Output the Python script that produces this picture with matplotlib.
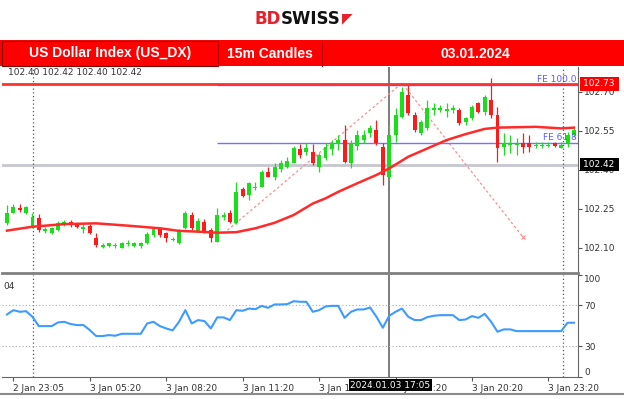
import matplotlib
matplotlib.use("Agg")
import matplotlib.pyplot as plt
from matplotlib.patches import Rectangle
from matplotlib.lines import Line2D
import numpy as np

# US_DX 15m candles (index 0 = first visible candle)
opens = [102.195, 102.235, 102.254, 102.232, 102.181, 102.215, 102.165, 102.158, 102.168, 102.187,
         102.198, 102.187, 102.173, 102.183, 102.136, 102.104, 102.108, 102.106, 102.100, 102.113,
         102.106, 102.106, 102.117, 102.149, 102.171, 102.155, 102.130, 102.117, 102.175, 102.227,
         102.164, 102.200, 102.168, 102.123, 102.217, 102.232, 102.194, 102.325, 102.303, 102.328,
         102.335, 102.392, 102.371, 102.402, 102.412, 102.425, 102.478, 102.469, 102.469, 102.412,
         102.444, 102.478, 102.499, 102.514, 102.425, 102.491, 102.514, 102.540, 102.553, 102.488,
         102.373, 102.533, 102.604, 102.687, 102.610, 102.540, 102.559, 102.630, 102.630, 102.627,
         102.630, 102.630, 102.585, 102.598, 102.655, 102.623, 102.668, 102.610, 102.488, 102.495,
         102.495, 102.501, 102.501, 102.492, 102.492, 102.493, 102.501, 102.485, 102.501, 102.533]
highs = [102.264, 102.267, 102.267, 102.262, 102.232, 102.228, 102.181, 102.180, 102.204, 102.207,
         102.207, 102.194, 102.191, 102.191, 102.155, 102.117, 102.120, 102.119, 102.123, 102.130,
         102.121, 102.123, 102.160, 102.181, 102.180, 102.162, 102.140, 102.171, 102.241, 102.237,
         102.214, 102.210, 102.176, 102.252, 102.238, 102.245, 102.354, 102.335, 102.354, 102.354,
         102.399, 102.412, 102.426, 102.437, 102.449, 102.491, 102.499, 102.503, 102.499, 102.463,
         102.503, 102.514, 102.533, 102.572, 102.514, 102.553, 102.553, 102.572, 102.591, 102.503,
         102.572, 102.637, 102.719, 102.726, 102.623, 102.591, 102.668, 102.655, 102.649, 102.655,
         102.649, 102.636, 102.604, 102.649, 102.662, 102.687, 102.752, 102.642, 102.540, 102.533,
         102.521, 102.540, 102.533, 102.508, 102.508, 102.508, 102.508, 102.508, 102.546, 102.559]
lows = [102.187, 102.232, 102.238, 102.230, 102.175, 102.162, 102.155, 102.153, 102.165, 102.183,
        102.181, 102.175, 102.155, 102.153, 102.104, 102.098, 102.104, 102.098, 102.098, 102.106,
        102.104, 102.098, 102.114, 102.142, 102.142, 102.123, 102.127, 102.114, 102.172, 102.168,
        102.160, 102.157, 102.123, 102.122, 102.207, 102.194, 102.191, 102.296, 102.283, 102.322,
        102.333, 102.372, 102.360, 102.391, 102.407, 102.425, 102.445, 102.457, 102.418, 102.392,
        102.437, 102.457, 102.476, 102.425, 102.405, 102.476, 102.503, 102.526, 102.495, 102.341,
        102.360, 102.508, 102.598, 102.610, 102.546, 102.533, 102.553, 102.610, 102.623, 102.604,
        102.617, 102.572, 102.572, 102.591, 102.617, 102.610, 102.600, 102.431, 102.457, 102.463,
        102.457, 102.463, 102.469, 102.482, 102.482, 102.488, 102.488, 102.482, 102.488, 102.527]
closes = [102.232, 102.256, 102.245, 102.256, 102.217, 102.168, 102.171, 102.175, 102.194, 102.200,
          102.187, 102.181, 102.181, 102.155, 102.110, 102.110, 102.117, 102.110, 102.119, 102.117,
          102.117, 102.119, 102.153, 102.171, 102.149, 102.136, 102.132, 102.165, 102.232, 102.175,
          102.202, 102.162, 102.136, 102.226, 102.226, 102.200, 102.315, 102.299, 102.348, 102.335,
          102.392, 102.373, 102.412, 102.425, 102.435, 102.482, 102.457, 102.482, 102.425, 102.457,
          102.488, 102.502, 102.514, 102.431, 102.502, 102.533, 102.533, 102.559, 102.502, 102.380,
          102.533, 102.610, 102.700, 102.617, 102.553, 102.585, 102.636, 102.636, 102.636, 102.632,
          102.636, 102.578, 102.600, 102.642, 102.623, 102.681, 102.610, 102.482, 102.501, 102.499,
          102.499, 102.488, 102.488, 102.497, 102.497, 102.497, 102.492, 102.495, 102.533, 102.553]

# lower panel oscillator, one value per candle
rsi_values = [60.9, 65.1, 63.5, 64.1, 58.6, 49.5, 49.5, 49.5, 53.1, 53.7,
              51.5, 50.5, 50.5, 45.6, 39.8, 39.8, 40.7, 40.1, 42.0, 42.0,
              42.0, 42.0, 52.1, 53.7, 49.5, 47.2, 45.3, 53.7, 65.1, 52.1,
              55.4, 54.4, 47.2, 58.0, 58.0, 55.4, 65.1, 64.5, 66.7, 66.1,
              69.3, 67.4, 70.7, 70.7, 71.0, 73.9, 73.3, 73.3, 63.5, 65.1,
              68.7, 69.3, 69.3, 57.6, 63.5, 65.8, 65.8, 67.7, 58.6, 47.9,
              59.6, 63.5, 66.7, 58.6, 55.4, 55.4, 58.3, 59.6, 60.2, 60.2,
              60.2, 55.4, 56.0, 59.3, 57.6, 61.5, 53.7, 44.0, 46.3, 46.3,
              44.6, 44.6, 44.6, 44.6, 44.6, 44.6, 44.6, 44.6, 52.8, 52.8]

# red moving average, read at these candles
ma_idx = [0, 4, 9, 14, 19, 24, 27, 30, 33, 36, 39, 42, 45, 48, 50, 52, 55, 58, 60,
          63, 66, 69, 72, 75, 77, 83, 87, 89]
ma_values = [102.166, 102.181, 102.191, 102.194, 102.185, 102.175, 102.165, 102.162, 102.158,
             102.160, 102.175, 102.196, 102.226, 102.270, 102.290, 102.315, 102.348, 102.380,
             102.405, 102.450, 102.482, 102.514, 102.537, 102.557, 102.562, 102.565, 102.559, 102.562]

# fibonacci expansion tool
fib_idx = [34, 62, 81]
fib_prices = [102.155, 102.733, 102.141]
fe_names = ["FE 100.0", "FE 61.8"]
fe_levels = [102.726, 102.503]
fe_start = 33

red_level = 102.73
gray_level = 102.42
cursor_idx = 60
cursor_label = "2024.01.03 17:05"
dotted_idx = [4.1, 87.3]
header_ohlc = "102.40 102.42 102.40 102.42"

tick_idx = [1, 13, 25, 37, 49, 61, 73, 85]
tick_labels = ["2 Jan 23:05", "3 Jan 05:20", "3 Jan 08:20", "3 Jan 11:20",
               "3 Jan 14:20", "3 Jan 17:20", "3 Jan 20:20", "3 Jan 23:20"]
price_ticks = [102.10, 102.25, 102.40, 102.55, 102.70]
rsi_ticks = [0, 30, 70, 100]

W, H = 624, 399
plt.rcParams['font.family'] = ['DejaVu Sans']


def fy(y):
    return 1 - y / H


def fbox(x0, y0, x1, y1):
    return [x0 / W, 1 - y1 / H, (x1 - x0) / W, (y1 - y0) / H]


fig = plt.figure(figsize=(W / 100, H / 100), dpi=100)
fig.patch.set_facecolor('white')

ax = fig.add_axes(fbox(2, 67, 577.5, 272.5))
ax2 = fig.add_axes(fbox(2, 274.5, 577.5, 376.7), sharex=ax)

o = np.array(opens)
c = np.array(closes)
idx = np.arange(len(o))
up = c >= o
cols = np.where(up, '#18e018', '#ff1a1a')

# candles
ax.vlines(idx, lows, highs, colors=cols, lw=0.9, zorder=3)
ax.bar(idx, np.maximum(np.abs(c - o), 0.004), bottom=np.minimum(o, c), width=0.62,
       color=cols, linewidth=0, zorder=4)

ax.plot(ma_idx, ma_values, color='#ff2a2a', lw=1.8, zorder=5)
ax.plot(fib_idx, fib_prices, color='#ff8a8a', lw=0.9, ls=(0, (2, 2)), zorder=2)
ax.plot(fib_idx[-1], fib_prices[-1], marker='x', ms=3, mew=0.8, color='#ff8a8a', zorder=2)

xmax = 89.56
for name, lvl in zip(fe_names, fe_levels):
    ax.hlines(lvl, fe_start, xmax, color='#7373ff', lw=1, zorder=2)
    ax.text(xmax - 0.1, lvl + 0.003, name, ha='right', va='bottom', color='#5b5bff',
            fontsize=6.5, zorder=6)

ax.axhline(red_level, color='#ff3030', lw=2, zorder=6)
ax.axhline(gray_level, color='#c6c6cf', lw=2, zorder=1)

for a in (ax, ax2):
    for d in dotted_idx:
        a.axvline(d, color='#555555', lw=0.9, ls=(0, (1, 2)), zorder=1)
    a.axvline(cursor_idx, color='#666666', lw=1.2, zorder=1)

ax.set_xlim(-0.785, xmax)
ax.set_ylim(102.005, 102.795)
ax.yaxis.tick_right()
ax.set_yticks(price_ticks)
ax.set_yticklabels([f"{p:.2f}" for p in price_ticks])
ax.tick_params(axis='y', labelsize=6.5, labelcolor='#333333', color='#555555', length=3, pad=2)
ax.tick_params(axis='x', bottom=False, labelbottom=False)
for s in ('top', 'left'):
    ax.spines[s].set_visible(False)
ax.spines['bottom'].set_color('#808080')
ax.spines['bottom'].set_linewidth(2)
ax.spines['right'].set_color('#666666')

ax.text(0.0104, 0.974, header_ohlc, transform=ax.transAxes, fontsize=6.5, color='#333333',
        va='center', ha='left')

# price boxes on the right scale
ytr = ax.get_yaxis_transform()
ax.text(1.009, red_level, "102.73 ", transform=ytr, fontsize=6.5, color='white', va='center',
        ha='left', bbox=dict(boxstyle='square,pad=0.25', fc='#ff0000', ec='none'), zorder=10,
        clip_on=False)
ax.text(1.009, gray_level, "102.42 ", transform=ytr, fontsize=6.5, color='white', va='center',
        ha='left', bbox=dict(boxstyle='square,pad=0.25', fc='#000000', ec='none'), zorder=10,
        clip_on=False)

# oscillator panel
ax2.plot(idx, rsi_values, color='#3d9bff', lw=1.5, zorder=3)
for lvl in (30, 70):
    ax2.axhline(lvl, color='#b0b0b0', lw=0.8, ls=(0, (1, 2)), zorder=1)
ax2.set_ylim(0, 100)
ax2.yaxis.tick_right()
ax2.set_yticks(rsi_ticks)
ax2.set_yticklabels([str(t) for t in rsi_ticks])
ax2.tick_params(axis='y', labelsize=6.5, labelcolor='#333333', color='#555555', length=3, pad=2)
tl = ax2.get_yticklabels()
tl[0].set_va('bottom')
tl[-1].set_va('top')
ax2.set_xticks(tick_idx)
ax2.set_xticklabels(tick_labels, ha='left')
ax2.tick_params(axis='x', labelsize=6.5, labelcolor='#333333', color='#555555', length=3, pad=2)
for s in ('top', 'left'):
    ax2.spines[s].set_visible(False)
ax2.spines['right'].set_color('#666666')
ax2.spines['bottom'].set_color('#666666')
ax2.text(0.002, 0.93, "04", transform=ax2.transAxes, fontsize=6.5, color='#333333',
         va='top', ha='left')
ax2.text(cursor_idx + 0.2, -0.083, cursor_label, transform=ax2.get_xaxis_transform(),
         fontsize=6.5, color='white', ha='center', va='center', zorder=10, clip_on=False,
         bbox=dict(boxstyle='square,pad=0.2', fc='black', ec='none'))

# header bar
fig.add_artist(Rectangle((0, fy(66)), 1, 25.5 / H, transform=fig.transFigure,
                         fc='#ff0000', ec='none'))
fig.add_artist(Rectangle((1.5 / W, fy(66)), 216.5 / W, 25 / H, transform=fig.transFigure,
                         fc='none', ec='#7a0000', lw=0.8))
for xd in (218, 322):
    fig.add_artist(Line2D([xd / W, xd / W], [fy(40.5), fy(66)], color='#b80000', lw=0.8))
hdr = dict(ha='center', va='center', color='white', fontsize=10, fontweight='bold',
           family=['Liberation Sans', 'DejaVu Sans'])
fig.text(110 / W, fy(53.5), "US Dollar Index (US_DX)", **hdr)
fig.text(270 / W, fy(53.5), "15m Candles", **hdr)
fig.text(475 / W, fy(53.5), "03.01.2024", **hdr)

# logo
fig.text(254 / W, fy(18.5), "BD", color='#e8202a', fontsize=12, fontweight='bold',
         ha='left', va='center')
fig.text(281 / W, fy(18.5), "SWISS", color='#111111', fontsize=12, fontweight='bold',
         ha='left', va='center')
fig.text(342 / W, fy(18.0), "\u25e4", color='#e8202a', fontsize=10, ha='left', va='center')

fig.add_artist(Line2D([0, 1], [fy(394), fy(394)], color='#8a8a8a', lw=1.5))

fig.savefig('out.png', dpi=100)
